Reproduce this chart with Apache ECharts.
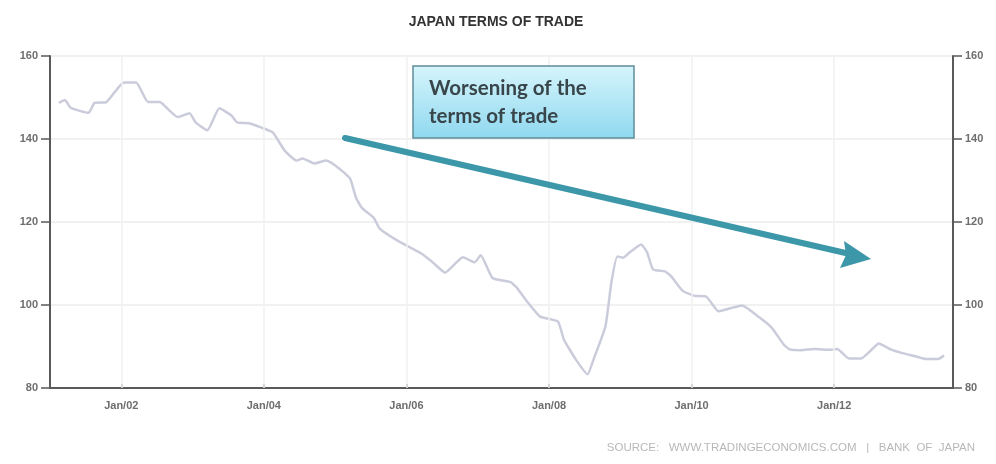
<!DOCTYPE html>
<html>
<head>
<meta charset="utf-8">
<script src="https://cdn.jsdelivr.net/npm/echarts@6/dist/echarts.min.js"></script>
<style>
  html, body { margin: 0; padding: 0; background: #fff; }
  #chart { width: 996px; height: 464px; }
</style>
</head>
<body>
<div id="chart"></div>
<script>
// Japan terms of trade index, sampled at its turning points
const months = [
  '2001-02','2001-03','2001-04','2001-07','2001-08','2001-10','2001-12',
  '2002-01','2002-03','2002-05','2002-07','2002-08','2002-10','2002-12',
  '2003-01','2003-03','2003-05','2003-07','2003-08','2003-10','2003-12',
  '2004-02','2004-04','2004-06','2004-07','2004-09','2004-11',
  '2005-01','2005-03','2005-04','2005-05','2005-07','2005-08','2005-11',
  '2006-03','2006-05','2006-07','2006-10','2006-12',
  '2007-01','2007-03','2007-06','2007-07','2007-09','2007-11',
  '2008-02','2008-03','2008-05','2008-07','2008-08','2008-10','2008-11','2008-12',
  '2009-01','2009-02','2009-04','2009-05','2009-06','2009-08','2009-09','2009-11',
  '2010-01','2010-03','2010-05','2010-07','2010-09','2010-12',
  '2011-02','2011-04','2011-05','2011-07','2011-09','2011-12',
  '2012-01','2012-03','2012-05','2012-07','2012-08','2012-10','2012-12',
  '2013-02','2013-04','2013-06','2013-07'
];
const termsOfTrade = [
  148.7,149.4,147.5,146.3,148.7,148.9,152.4,
  153.6,153.6,148.9,148.9,147.7,145.3,146.2,
  144.0,142.1,147.4,145.7,144.0,143.8,142.8,
  141.6,137.2,134.8,135.3,134.1,134.8,
  133.1,130.5,125.9,123.4,121.0,118.4,115.5,
  112.4,110.2,107.8,111.5,110.3,
  112.0,106.5,105.5,104.3,100.5,97.2,
  96.0,91.7,86.9,83.3,86.9,94.9,105.5,111.7,
  111.4,112.6,114.6,112.7,108.6,108.1,107.0,103.4,
  102.2,102.0,98.5,99.2,99.9,96.9,
  94.5,90.5,89.3,89.1,89.4,89.2,
  89.4,87.1,87.1,89.5,90.7,89.3,88.4,
  87.7,87.0,87.0,87.8
];
const tickYears = [2002, 2004, 2006, 2008, 2010, 2012];
const yTicks = [80, 100, 120, 140, 160];

// 'YYYY-MM' -> fractional year at mid-month
function monthToYear(s) {
  const [y, m] = s.split('-').map(Number);
  return y + (m - 0.5) / 12;
}

const chart = echarts.init(document.getElementById('chart'), null, { renderer: 'canvas' });

const tickFont = {
  color: '#6e6e6e',
  fontSize: 11,
  fontWeight: 'bold',
  fontFamily: '"Liberation Sans Narrow", "Liberation Sans", Arial, sans-serif'
};

const yAxisBase = {
  type: 'value',
  min: yTicks[0],
  max: yTicks[yTicks.length - 1],
  interval: 20,
  axisLine: { show: true, lineStyle: { color: '#5a5a5a', width: 2 } },
  axisTick: { show: true, length: 9, lineStyle: { color: '#5a5a5a', width: 1.5 } },
  axisLabel: Object.assign({ margin: 12 }, tickFont)
};

chart.setOption({
  animation: false,
  backgroundColor: '#ffffff',
  title: {
    text: 'JAPAN TERMS OF TRADE',
    left: 491,
    top: 10,
    textAlign: 'center',
    textStyle: {
      color: '#333333',
      fontSize: 14,
      fontWeight: 'bold',
      fontFamily: '"Liberation Sans", Arial, sans-serif'
    }
  },
  grid: { left: 50, right: 43, top: 56, bottom: 76, containLabel: false },
  xAxis: {
    type: 'value',
    min: 2001,
    max: 2013 + 8 / 12,
    axisLine: { show: true, onZero: false, lineStyle: { color: '#5a5a5a', width: 2 } },
    axisTick: {
      show: true, inside: true, length: 4,
      customValues: tickYears,
      lineStyle: { color: '#5a5a5a', width: 1.5 }
    },
    axisLabel: Object.assign({
      margin: 12,
      customValues: tickYears,
      formatter: function (v) {
        return 'Jan/' + String(Math.round(v) % 100).padStart(2, '0');
      }
    }, tickFont),
    splitLine: { show: false }
  },
  yAxis: [
    Object.assign({}, yAxisBase, {
      position: 'left',
      splitLine: { show: true, lineStyle: { color: '#ededed', width: 1.5 } }
    }),
    Object.assign({}, yAxisBase, {
      position: 'right',
      splitLine: { show: false }
    })
  ],
  series: [
    {
      type: 'line',
      yAxisIndex: 0,
      data: months.map((m, i) => [monthToYear(m), termsOfTrade[i]]),
      showSymbol: false,
      smooth: 0.15,
      lineStyle: { color: '#cbccdb', width: 2.5 },
      markLine: {
        silent: true,
        symbol: 'none',
        label: { show: false },
        lineStyle: { color: '#f0f0f0', width: 1.5, type: 'solid' },
        data: tickYears.map(y => ({ xAxis: y }))
      }
    }
  ],
  graphic: [
    // trend arrow
    {
      type: 'line',
      shape: { x1: 345, y1: 138, x2: 850, y2: 254 },
      style: { stroke: '#3c97a8', lineWidth: 6, lineCap: 'round' },
      z: 10
    },
    {
      type: 'polygon',
      shape: { points: [[871, 259], [840, 268], [846, 255], [844, 241]] },
      style: { fill: '#3c97a8' },
      z: 10
    },
    // callout box
    {
      type: 'rect',
      shape: { x: 413, y: 66, width: 221, height: 72 },
      style: {
        fill: new echarts.graphic.LinearGradient(0, 0, 0, 1, [
          { offset: 0, color: '#d6f5fc' },
          { offset: 1, color: '#8fd8ef' }
        ]),
        stroke: '#5f8d99',
        lineWidth: 1.5
      },
      z: 11
    },
    {
      type: 'text',
      left: 429,
      top: 74,
      style: {
        text: 'Worsening of the\nterms of trade',
        fill: '#38454a',
        font: 'bold 20.5px Lato, "Open Sans", sans-serif',
        lineHeight: 28
      },
      z: 12
    },
    // source line
    {
      type: 'text',
      right: 21,
      top: 442,
      style: {
        text: 'SOURCE:   WWW.TRADINGECONOMICS.COM   |   BANK  OF  JAPAN',
        fill: '#b8b8b8',
        font: '11.5px "Liberation Sans", Arial, sans-serif'
      }
    }
  ]
});
</script>
</body>
</html>
